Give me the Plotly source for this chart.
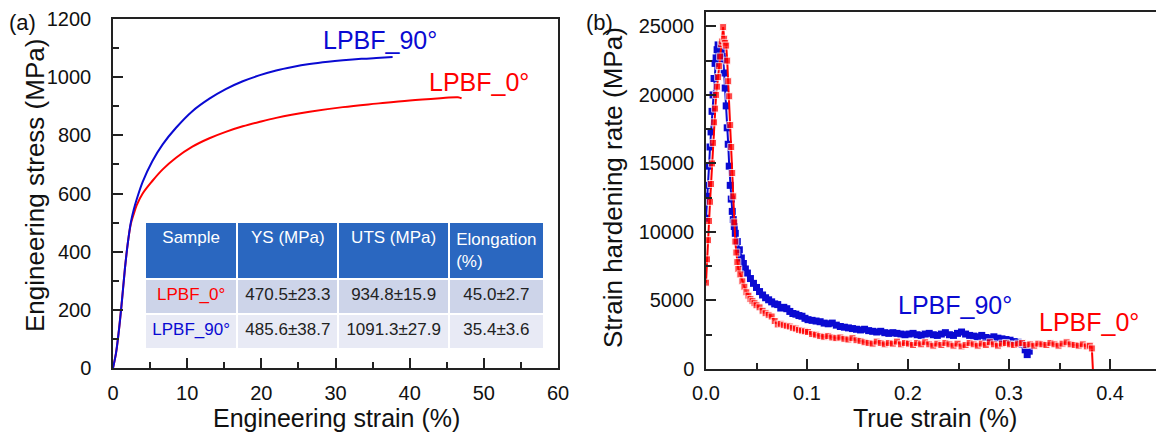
import plotly.graph_objects as go

# ---------------- Panel (a): engineering stress-strain ----------------
strain_0 = [0, 0.4, 0.8, 1.2, 1.6, 2.0, 2.4, 2.8, 3.2, 4.0, 5.3, 6.7, 8.5, 10.7, 13.0,
            15.2, 17.5, 19.7, 22.0, 26.5, 31.0, 35.5, 40.0, 44.5, 46.5, 47.0]
stress_0 = [0, 50, 130, 230, 340, 430, 495, 530, 560, 600, 643, 683, 723, 761, 790,
            812, 831, 846, 860, 881, 897, 909, 920, 928, 931, 927]

strain_90 = [0, 0.4, 0.8, 1.2, 1.6, 2.0, 2.4, 2.8, 3.2, 4.0, 5.3, 6.7, 8.5, 10.7, 13.0,
             15.2, 17.5, 19.7, 22.0, 24.2, 26.5, 29.0, 31.0, 33.5, 35.5, 37.7]
stress_90 = [0, 50, 130, 230, 340, 430, 500, 545, 580, 640, 711, 769, 826, 883, 926,
             959, 986, 1006, 1023, 1035, 1045, 1053, 1058, 1063, 1066, 1069]

# table
tbl_header = ["Sample", "YS (MPa)", "UTS (MPa)", "Elongation<br>(%)"]
tbl_sample = ["LPBF_0°", "LPBF_90°"]
tbl_ys = ["470.5±23.3", "485.6±38.7"]
tbl_uts = ["934.8±15.9", "1091.3±27.9"]
tbl_elong = ["45.0±2.7", "35.4±3.6"]

# ---------------- Panel (b): strain hardening rate ----------------
true_strain_90 = [0.000, 0.001, 0.002, 0.003, 0.004, 0.005, 0.006, 0.007, 0.008, 0.009,
                  0.010, 0.011, 0.012, 0.013, 0.014, 0.015, 0.016, 0.017, 0.018, 0.019,
                  0.020, 0.021, 0.022, 0.023, 0.024, 0.025, 0.026, 0.027, 0.028, 0.029,
                  0.031, 0.033, 0.035, 0.037, 0.039, 0.041, 0.044, 0.047, 0.050, 0.053,
                  0.056, 0.059, 0.062, 0.065, 0.068, 0.071, 0.074, 0.077, 0.080, 0.083,
                  0.086, 0.089, 0.092, 0.095, 0.098, 0.101, 0.105, 0.109, 0.113, 0.117,
                  0.121, 0.125, 0.129, 0.133, 0.137, 0.141, 0.145, 0.149, 0.153, 0.157,
                  0.161, 0.165, 0.169, 0.173, 0.177, 0.181, 0.185, 0.189, 0.193, 0.197,
                  0.201, 0.205, 0.209, 0.213, 0.217, 0.221, 0.225, 0.229, 0.233, 0.237,
                  0.241, 0.245, 0.249, 0.253, 0.257, 0.261, 0.265, 0.269, 0.273, 0.277,
                  0.281, 0.285, 0.289, 0.293, 0.297, 0.301, 0.305, 0.309, 0.313, 0.316,
                  0.318, 0.320]
hardening_90 = [11000, 12600, 13400, 14800, 16200, 17300, 18800, 20000, 21200, 22300,
                22700, 23300, 23650, 23600, 23400, 23200, 22800, 22600, 21600, 20500,
                19200, 17600, 16400, 14800, 13400, 12400, 11500, 10900, 10400, 9900,
                9300, 8700, 8100, 7700, 7300, 7000, 6600, 6250, 5950, 5650,
                5400, 5200, 5050, 4900, 4750, 4700, 4450, 4500, 4400, 4200,
                4050, 4000, 3900, 3850, 3700, 3600, 3550, 3500, 3450, 3350,
                3300, 3350, 3200, 3100, 3050, 3000, 2950, 2900, 2850, 2900,
                2800, 2750, 2700, 2750, 2650, 2600, 2650, 2600, 2550, 2500,
                2550, 2600, 2500, 2450, 2550, 2600, 2500, 2450, 2550, 2650,
                2500, 2450, 2600, 2700, 2550, 2450, 2400, 2350, 2450, 2300,
                2250, 2350, 2250, 2200, 2150, 2100, 2000, 1950, 1800, 1400,
                1050, 1300]

true_strain_0 = [0.000, 0.001, 0.002, 0.003, 0.004, 0.005, 0.006, 0.007, 0.008, 0.009,
                 0.010, 0.011, 0.012, 0.013, 0.014, 0.015, 0.016, 0.017, 0.018, 0.019,
                 0.020, 0.021, 0.022, 0.023, 0.024, 0.025, 0.026, 0.027, 0.028, 0.029,
                 0.030, 0.031, 0.032, 0.034, 0.036, 0.038, 0.040, 0.042, 0.044, 0.046,
                 0.048, 0.050, 0.053, 0.056, 0.059, 0.062, 0.065, 0.068, 0.071, 0.074,
                 0.077, 0.080, 0.083, 0.086, 0.089, 0.092, 0.095, 0.098, 0.101, 0.105,
                 0.109, 0.113, 0.117, 0.121, 0.125, 0.129, 0.133, 0.137, 0.141, 0.145,
                 0.149, 0.153, 0.157, 0.161, 0.165, 0.169, 0.173, 0.177, 0.181, 0.185,
                 0.189, 0.193, 0.197, 0.201, 0.205, 0.209, 0.213, 0.217, 0.221, 0.225,
                 0.229, 0.233, 0.237, 0.241, 0.245, 0.249, 0.253, 0.257, 0.261, 0.265,
                 0.269, 0.273, 0.277, 0.281, 0.285, 0.289, 0.293, 0.297, 0.301, 0.305,
                 0.309, 0.313, 0.317, 0.321, 0.325, 0.329, 0.333, 0.337, 0.341, 0.345,
                 0.349, 0.353, 0.357, 0.361, 0.365, 0.369, 0.373, 0.377, 0.380, 0.382,
                 0.383]
hardening_0 = [6300, 8000, 9400, 10800, 12200, 13500, 15000, 16500, 18000, 19000,
               20000, 20600, 21300, 22100, 22800, 23700, 23900, 24950, 24100, 23800,
               23600, 22500, 21000, 19900, 17800, 16200, 14300, 12600, 10700, 9300,
               8500, 7800, 7300, 6900, 6400, 6000, 5600, 5350, 5100, 4950,
               4800, 4650, 4500, 4250, 4070, 3950, 3830, 3500, 3250, 3300,
               3200, 3150, 3100, 3000, 2950, 2850, 2800, 2750, 2700, 2550,
               2500, 2400, 2350, 2400, 2300, 2250, 2300, 2200, 2150, 2250,
               2100, 2050, 1950, 1900, 1850, 2000, 1900, 1800, 1900, 1850,
               2000, 1800, 1900, 1850, 1750, 1900, 1800, 1950, 1800, 1700,
               1850, 1750, 1900, 1800, 1700, 1850, 1650, 1750, 1900, 1800,
               1700, 1850, 1750, 1950, 1800, 1700, 1850, 1900, 1800, 1750,
               1850, 1900, 1750, 1800, 1700, 1850, 1800, 1750, 1900, 1800,
               1700, 1850, 1950, 1800, 1750, 1700, 1800, 1650, 1700, 1500,
               0]

RED = "#ff0000"
BLUE = "#0a0ad2"
W, H = 1156, 435
TF = "Liberation Sans, Arial"


def px(x):
    return x / W


def py(y):
    return 1 - y / H


fig = go.Figure()

# panel (a) curves
fig.add_trace(go.Scatter(x=strain_0, y=stress_0, mode="lines", line=dict(color=RED, width=2),
                         line_shape="spline", xaxis="x", yaxis="y", showlegend=False))
fig.add_trace(go.Scatter(x=strain_90, y=stress_90, mode="lines", line=dict(color=BLUE, width=2),
                         line_shape="spline", xaxis="x", yaxis="y", showlegend=False))

# panel (b) curves
fig.add_trace(go.Scatter(x=true_strain_90, y=hardening_90, mode="lines+markers",
                         line=dict(color=BLUE, width=2),
                         marker=dict(symbol="square", size=7, color=BLUE),
                         xaxis="x2", yaxis="y2", showlegend=False))
sizes_0 = [7] * (len(true_strain_0) - 1) + [0]
fig.add_trace(go.Scatter(x=true_strain_0, y=hardening_0, mode="lines+markers",
                         line=dict(color=RED, width=2),
                         marker=dict(symbol="square", size=sizes_0, color=RED),
                         xaxis="x2", yaxis="y2", showlegend=False))

# table
HEAD_BLUE = "#2a67c0"
fig.add_trace(go.Table(
    domain=dict(x=[px(145), px(544)], y=[py(352), py(222)]),
    columnwidth=[92, 101, 110, 95],
    header=dict(values=tbl_header, fill_color=HEAD_BLUE,
                line=dict(color="white", width=2), align="center", height=46,
                font=dict(family=TF, size=17, color="white")),
    cells=dict(values=[tbl_sample, tbl_ys, tbl_uts, tbl_elong],
               fill_color=[["#cdd4e9", "#e8eaf5"]] * 4,
               line=dict(color="white", width=2), align="center", height=35,
               font=dict(family=TF, size=17,
                         color=[[RED, BLUE], ["#222"] * 2, ["#222"] * 2, ["#222"] * 2])),
))

axis_common = dict(showline=True, linecolor="#222", linewidth=1.5, showgrid=False,
                   zeroline=False, ticks="inside", ticklen=10, tickwidth=1.5,
                   tickcolor="#222", automargin=False,
                   tickfont=dict(family=TF, size=20, color="#111"))

fig.update_layout(
    template="none",
    width=W, height=H, autosize=False,
    margin=dict(l=0, r=0, t=0, b=0, pad=0, autoexpand=False),
    paper_bgcolor="white", plot_bgcolor="white",
    xaxis=dict(axis_common, domain=[px(113), px(558)], range=[0, 60], dtick=10, tick0=0,
               mirror=True, anchor="y", ticklabelstandoff=6,
               minor=dict(ticks="inside", ticklen=6, dtick=5, tickcolor="#222", tickwidth=1.5)),
    yaxis=dict(axis_common, domain=[py(368), py(19)], range=[0, 1200], dtick=200, tick0=0,
               mirror=True, anchor="x", ticklabelstandoff=16, tickformat="d",
               minor=dict(ticks="inside", ticklen=6, dtick=100, tickcolor="#222", tickwidth=1.5)),
    xaxis2=dict(axis_common, domain=[px(706), 1.0], range=[0, 0.4455], dtick=0.1, tick0=0,
                tickformat=".1f", mirror=True, anchor="y2", ticklabelstandoff=5,
                minor=dict(ticks="inside", ticklen=6, dtick=0.05, tickcolor="#222", tickwidth=1.5)),
    yaxis2=dict(axis_common, domain=[py(369), py(12)], range=[0, 26050], dtick=5000, tick0=0,
                anchor="x2", ticklabelstandoff=6, tickformat="d",
                minor=dict(ticks="inside", ticklen=6, dtick=2500, tickcolor="#222", tickwidth=1.5)),
)

ann = [
    dict(text="(a)", x=px(22), y=py(23), font=dict(size=22)),
    dict(text="(b)", x=px(599), y=py(22), font=dict(size=22)),
    dict(text="Engineering stress (MPa)", x=px(35), y=py(186), textangle=-90, font=dict(size=26)),
    dict(text="Engineering strain (%)", x=px(336), y=py(418), font=dict(size=25)),
    dict(text="Strain hardening rate (MPa)", x=px(613), y=py(188), textangle=-90, font=dict(size=26)),
    dict(text="True strain (%)", x=px(935), y=py(418), font=dict(size=25)),
]
for a in ann:
    a["font"].update(family=TF, color="#111")
    fig.add_annotation(xref="paper", yref="paper", showarrow=False,
                       xanchor="center", yanchor="middle", **a)

# curve labels in data coordinates
fig.add_annotation(x=36, y=1127, xref="x", yref="y", text="LPBF_90°", showarrow=False,
                   font=dict(family=TF, size=25, color=BLUE))
fig.add_annotation(x=49.3, y=983, xref="x", yref="y", text="LPBF_0°", showarrow=False,
                   font=dict(family=TF, size=25, color=RED))
fig.add_annotation(x=0.2465, y=4670, xref="x2", yref="y2", text="LPBF_90°", showarrow=False,
                   font=dict(family=TF, size=25, color=BLUE))
fig.add_annotation(x=0.379, y=3430, xref="x2", yref="y2", text="LPBF_0°", showarrow=False,
                   font=dict(family=TF, size=25, color=RED))

fig.write_html("out.html")
